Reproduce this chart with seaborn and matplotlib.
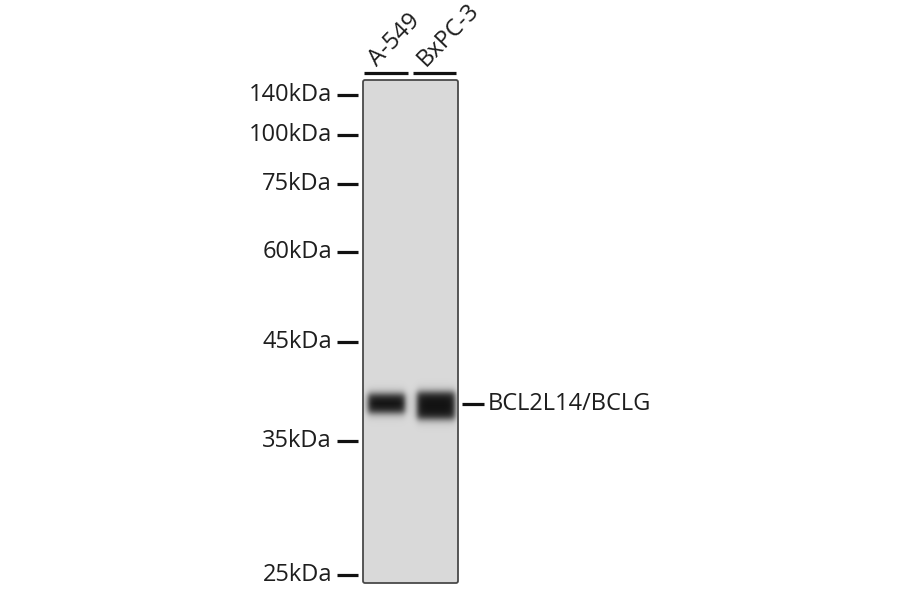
import numpy as np
import seaborn as sns
import matplotlib.pyplot as plt
from matplotlib.patches import FancyBboxPatch

# marker ladder (kDa) and the row (pixel) each one ran to
marker_kda = [140, 100, 75, 60, 45, 35, 25]
marker_row = [95, 135, 184, 252, 342, 441, 575]
marker_labels = ["140kDa", "100kDa", "75kDa", "60kDa", "45kDa", "35kDa", "25kDa"]

# lanes
lanes = ["A-549", "BxPC-3"]
lane_left = [368, 417]
lane_right = [405, 455]
band_kda = [38.5, 38.3]
band_height = [19, 27]
band_strength = [1.0, 1.0]
target = "BCL2L14/BCLG"

sns.set_theme(style="white")
plt.rcParams["font.family"] = ["Open Sans", "DejaVu Sans"]

W, H = 900, 594
mem_x0, mem_x1, mem_y0, mem_y1 = 363, 458, 80, 583

fig = plt.figure(figsize=(9, 5.94), dpi=100)

# membrane as a one-cell-per-pixel heatmap
xs = np.arange(mem_x0, mem_x1) + 0.5
ys = np.arange(mem_y0, mem_y1) + 0.5
X, Y = np.meshgrid(xs, ys)
bg = 0.85
img = np.full(X.shape, bg)
log_k = np.log(marker_kda)
for i in range(len(lanes)):
    row = np.interp(-np.log(band_kda[i]), -log_k, marker_row)
    cx = (lane_left[i] + lane_right[i]) / 2
    hw = (lane_right[i] - lane_left[i]) / 2
    hh = band_height[i] / 2
    sx = 1 / (1 + np.exp((np.abs(X - cx) - hw) / 1.8))
    sy = 1 / (1 + np.exp((np.abs(Y - row) - hh) / 2.4))
    img -= (bg - 0.07) * band_strength[i] * sx * sy

ax = fig.add_axes([mem_x0 / W, 1 - mem_y1 / H, (mem_x1 - mem_x0) / W, (mem_y1 - mem_y0) / H])
sns.heatmap(img, ax=ax, cmap="gray", vmin=0, vmax=1, cbar=False,
            xticklabels=False, yticklabels=False, linewidths=0)
ax.set_axis_off()

# annotation layer in pixel coordinates
ov = fig.add_axes([0, 0, 1, 1], zorder=5)
ov.set_xlim(0, W)
ov.set_ylim(H, 0)
ov.set_axis_off()
ov.patch.set_alpha(0)

ov.add_patch(FancyBboxPatch((mem_x0, mem_y0), mem_x1 - mem_x0, mem_y1 - mem_y0,
                            boxstyle="round,pad=0,rounding_size=2",
                            fill=False, ec="#4a4a4a", lw=1.3))

txt = "#1e1e1e"
for lab, r in zip(marker_labels, marker_row):
    ov.plot([337, 358], [r, r], color="#111111", lw=2.3, solid_capstyle="butt")
    ov.text(332, r, lab, ha="right", va="center", fontsize=17, color=txt)

bar_x = [(364, 408), (413, 456)]
for lab, (a, b) in zip(lanes, bar_x):
    ov.plot([a, b], [73, 73], color="#111111", lw=2.3, solid_capstyle="butt")
    ov.text(a + 13, 67, lab, rotation=46, rotation_mode="anchor",
            ha="left", va="baseline", fontsize=17, color=txt)

band_row = np.interp(-np.log(np.mean(band_kda)), -log_k, marker_row)
ov.plot([462, 484], [band_row, band_row], color="#111111", lw=2.3, solid_capstyle="butt")
ov.text(488, band_row, target, ha="left", va="center", fontsize=17, color=txt)

fig.savefig("out.png", dpi=100)
